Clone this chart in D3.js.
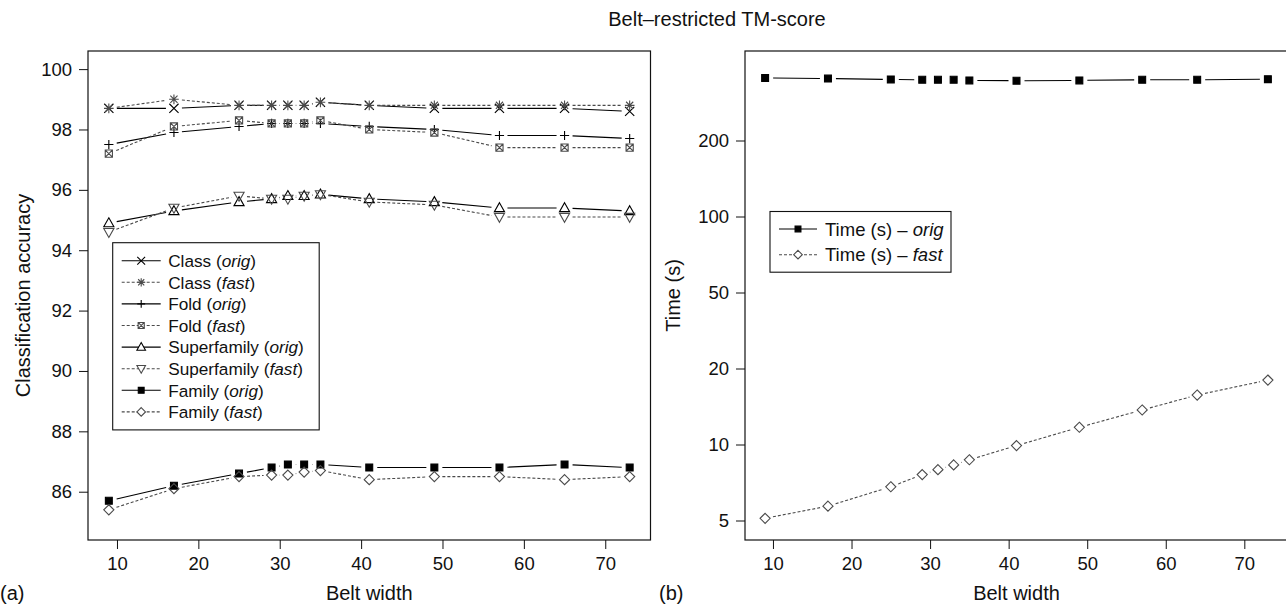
<!DOCTYPE html>
<html>
<head>
<meta charset="utf-8">
<script src="https://cdn.jsdelivr.net/npm/d3@7/dist/d3.min.js"></script>
<style>
body { margin: 0; background: #fff; }
svg { font-family: "Liberation Sans", Arial, sans-serif; }
</style>
</head>
<body>
<script>

WIDTH = 1286;
HEIGHT = 607;
FAST = "#4a4a4a";
GAP = 8;          // R type="b": lines stop short of the points
FS = 18.5;        // tick labels
LAB = 20;         // axis titles

// belt widths (x) and values
var beltWidth     = [9, 17, 25, 29, 31, 33, 35, 41, 49, 57, 65, 73];
var beltWidthTime = [9, 17, 25, 29, 31, 33, 35, 41, 49, 57, 64, 73];

var classOrig  = [98.7, 98.7, 98.8, 98.8, 98.8, 98.8, 98.9, 98.8, 98.7, 98.7, 98.7, 98.6];
var classFast  = [98.7, 99.0, 98.8, 98.8, 98.8, 98.8, 98.9, 98.8, 98.8, 98.8, 98.8, 98.8];
var foldOrig   = [97.5, 97.9, 98.1, 98.2, 98.2, 98.2, 98.2, 98.1, 98.0, 97.8, 97.8, 97.7];
var foldFast   = [97.2, 98.1, 98.3, 98.2, 98.2, 98.2, 98.3, 98.0, 97.9, 97.4, 97.4, 97.4];
var superOrig  = [94.9, 95.3, 95.6, 95.7, 95.8, 95.8, 95.85, 95.7, 95.6, 95.4, 95.4, 95.3];
var superFast  = [94.6, 95.4, 95.8, 95.7, 95.7, 95.8, 95.85, 95.6, 95.5, 95.1, 95.1, 95.1];
var familyOrig = [85.7, 86.2, 86.6, 86.8, 86.9, 86.9, 86.9, 86.8, 86.8, 86.8, 86.9, 86.8];
var familyFast = [85.4, 86.1, 86.5, 86.55, 86.55, 86.65, 86.7, 86.4, 86.5, 86.5, 86.4, 86.5];

var timeOrig = [354, 352, 349, 348, 348, 348, 346, 345, 346, 348, 348, 350];
var timeFast = [5.1, 5.7, 6.8, 7.6, 7.95, 8.3, 8.7, 9.9, 11.7, 13.7, 15.7, 18.0];

var xTicks = [10, 20, 30, 40, 50, 60, 70];
var accTicks = [86, 88, 90, 92, 94, 96, 98, 100];
var timeTicks = [5, 10, 20, 50, 100, 200];

// R style marker shapes
var S = 4.6;
var shapes = {
    cross: s => `M${-s},${-s}L${s},${s}M${-s},${s}L${s},${-s}`,
    plus: s => `M${-s},0L${s},0M0,${-s}L0,${s}`,
    star: s => shapes.plus(s * 1.05) + shapes.cross(s * 0.78),
    boxx: s => { var h = s * 0.78; return `M${-h},${-h}H${h}V${h}H${-h}Z` + shapes.cross(h); },
    tup: s => `M0,${-s * 1.15}L${s * 1.1},${s * 0.8}L${-s * 1.1},${s * 0.8}Z`,
    tdown: s => `M0,${s * 1.15}L${s * 1.1},${-s * 0.8}L${-s * 1.1},${-s * 0.8}Z`,
    square: s => { var h = s * 0.75; return `M${-h},${-h}H${h}V${h}H${-h}Z`; },
    diamond: s => `M0,${-s * 1.1}L${s * 1.1},0L0,${s * 1.1}L${-s * 1.1},0Z`
};

var accSeries = [
    {name: "Class", kind: "orig", values: classOrig, shape: "cross"},
    {name: "Class", kind: "fast", values: classFast, shape: "star"},
    {name: "Fold", kind: "orig", values: foldOrig, shape: "plus"},
    {name: "Fold", kind: "fast", values: foldFast, shape: "boxx"},
    {name: "Superfamily", kind: "orig", values: superOrig, shape: "tup"},
    {name: "Superfamily", kind: "fast", values: superFast, shape: "tdown"},
    {name: "Family", kind: "orig", values: familyOrig, shape: "square"},
    {name: "Family", kind: "fast", values: familyFast, shape: "diamond"}
];

var timeSeries = [
    {kind: "orig", values: timeOrig, shape: "square"},
    {kind: "fast", values: timeFast, shape: "diamond"}
];

var svg = d3.select("body").append("svg")
    .attr("width", WIDTH)
    .attr("height", HEIGHT);

function colorOf(d) { return d.kind == "orig" ? "#000" : FAST; }

function gapSegments(pts) {
    var segs = [];
    for (var i = 0; i < pts.length - 1; i++) {
        var a = pts[i], b = pts[i + 1];
        var dx = b[0] - a[0], dy = b[1] - a[1], len = Math.hypot(dx, dy);
        if (len <= 2 * GAP) continue;
        var ux = dx / len, uy = dy / len;
        segs.push([a[0] + ux * GAP, a[1] + uy * GAP, b[0] - ux * GAP, b[1] - uy * GAP]);
    }
    return segs;
}

function drawSeries(g, series, xs, x, y) {
    series.forEach(function(s) {
        var pts = s.values.map((v, i) => [x(xs[i]), y(v)]);
        g.append("g").selectAll("line")
            .data(gapSegments(pts))
            .enter().append("line")
            .attr("x1", d => d[0]).attr("y1", d => d[1])
            .attr("x2", d => d[2]).attr("y2", d => d[3])
            .attr("stroke", colorOf(s))
            .attr("stroke-width", 1.1)
            .attr("stroke-dasharray", s.kind == "fast" ? "3,2" : null);
        g.append("g").selectAll("path")
            .data(pts)
            .enter().append("path")
            .attr("transform", d => `translate(${d[0]},${d[1]})`)
            .attr("d", shapes[s.shape](S))
            .attr("fill", s.shape == "square" ? colorOf(s) : "none")
            .attr("stroke", colorOf(s))
            .attr("stroke-width", 1.1);
    });
}

function frame(box) {
    svg.append("rect")
        .attr("x", box.x0).attr("y", box.y0)
        .attr("width", box.x1 - box.x0).attr("height", box.y1 - box.y0)
        .attr("fill", "none").attr("stroke", "#111").attr("stroke-width", 1.2);
}

function styleAxis(g) {
    g.attr("font-size", FS).attr("font-family", null);
    g.select(".domain").remove();
    g.selectAll(".tick line").attr("stroke", "#111");
    g.selectAll(".tick text").attr("fill", "#111");
}

function legend(g, items, o) {
    var h = o.pad * 2 + (items.length - 1) * o.row;
    g.append("rect")
        .attr("x", o.x).attr("y", o.y)
        .attr("width", o.w).attr("height", h)
        .attr("fill", "#fff").attr("stroke", "#111").attr("stroke-width", 1.1);
    var it = g.selectAll(".item").data(items).enter().append("g")
        .attr("transform", (d, i) => `translate(${o.x},${o.y + o.pad + i * o.row})`);
    it.append("line")
        .attr("x1", o.l0).attr("x2", o.l1)
        .attr("stroke", colorOf).attr("stroke-width", 1.1)
        .attr("stroke-dasharray", d => d.kind == "fast" ? "3,2" : null);
    it.append("path")
        .attr("transform", `translate(${(o.l0 + o.l1) / 2},0)`)
        .attr("d", d => shapes[d.shape](S * 0.85))
        .attr("fill", d => d.shape == "square" ? colorOf(d) : "#fff")
        .attr("stroke", colorOf).attr("stroke-width", 1.1);
    var t = it.append("text")
        .attr("x", o.tx).attr("dy", "0.36em")
        .attr("font-size", o.fs).attr("fill", "#111");
    t.append("tspan").text(d => o.label(d));
    t.append("tspan").attr("font-style", "italic").text(d => d.kind);
    t.append("tspan").text(o.after);
}

function label(x, y, txt, size, rotate, anchor) {
    return svg.append("text")
        .attr("transform", `translate(${x},${y})` + (rotate ? " rotate(-90)" : ""))
        .attr("text-anchor", anchor || "middle")
        .attr("font-size", size).attr("fill", "#111")
        .text(txt);
}

// ---------- (a) classification accuracy ----------
var A = {x0: 88, x1: 650.5, y0: 51, y1: 540};
var xA = d3.scaleLinear().domain([6.44, 75.56]).range([A.x0, A.x1]);
var yA = d3.scaleLinear().domain([84.4, 100.6]).range([A.y1, A.y0]);

frame(A);
svg.append("g").attr("transform", `translate(0,${A.y1})`)
    .call(d3.axisBottom(xA).tickValues(xTicks).tickSize(9).tickPadding(8))
    .call(styleAxis);
svg.append("g").attr("transform", `translate(${A.x0},0)`)
    .call(d3.axisLeft(yA).tickValues(accTicks).tickSize(9).tickPadding(7))
    .call(styleAxis);

drawSeries(svg.append("g"), accSeries, beltWidth, xA, yA);

legend(svg.append("g"), accSeries, {
    x: 112.7, y: 242.7, w: 206.5, pad: 18, row: 21.6,
    l0: 9, l1: 48, tx: 55.5, fs: 17.2,
    label: d => d.name + " (", after: ")"
});

label(30, (A.y0 + A.y1) / 2, "Classification accuracy", LAB, true);
label((A.x0 + A.x1) / 2, 600, "Belt width", LAB);
label(0, 600, "(a)", LAB, false, "start");

// ---------- (b) running time ----------
var B = {x0: 745, x1: 1288, y0: 51, y1: 540};
var xB = d3.scaleLinear().domain([6.44, 75.56]).range([B.x0, B.x1]);
// the labelled values sit at equal steps on the axis
var yB = d3.scaleLog().domain(timeTicks).range(timeTicks.map((d, i) => 520.5 - i * 76));

frame(B);
svg.append("g").attr("transform", `translate(0,${B.y1})`)
    .call(d3.axisBottom(xB).tickValues(xTicks).tickSize(9).tickPadding(8))
    .call(styleAxis);
svg.append("g").attr("transform", `translate(${B.x0},0)`)
    .call(d3.axisLeft(yB).tickValues(timeTicks).tickFormat(d3.format("d")).tickSize(9).tickPadding(7))
    .call(styleAxis);

drawSeries(svg.append("g"), timeSeries, beltWidthTime, xB, yB);

legend(svg.append("g"), timeSeries, {
    x: 770, y: 211.5, w: 181, pad: 17.5, row: 25.7,
    l0: 9, l1: 47, tx: 55, fs: 18.5,
    label: d => "Time (s) \u2013 ", after: ""
});

label(680, (B.y0 + B.y1) / 2, "Time (s)", LAB, true);
label((B.x0 + B.x1) / 2, 600, "Belt width", LAB);
label(659, 600, "(b)", LAB, false, "start");

label(717, 26, "Belt\u2013restricted TM-score", 20);

</script>
</body>
</html>
